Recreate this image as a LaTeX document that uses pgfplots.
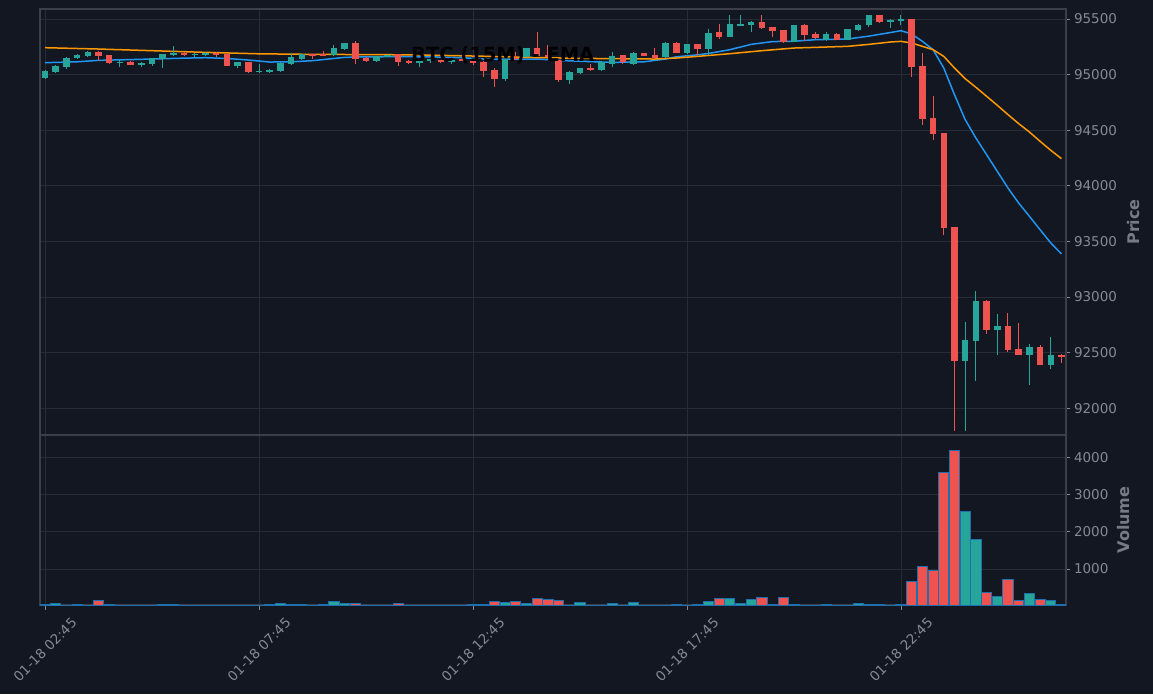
\documentclass[border=0pt]{standalone}
\usepackage{fontspec}
\setmainfont{DejaVu Sans}
\usepackage{pgfplots}
\usepackage{pgfplotstable}
\pgfplotsset{compat=1.18}
\definecolor{bgc}{RGB}{19,23,34}
\definecolor{gridc}{RGB}{40,44,55}
\definecolor{framec}{RGB}{60,63,72}
\definecolor{tickc}{RGB}{134,137,147}
\definecolor{labc}{RGB}{120,123,134}
\definecolor{upc}{RGB}{38,166,154}
\definecolor{dnc}{RGB}{239,83,80}
\definecolor{edgec}{RGB}{31,110,175}
\definecolor{emaf}{RGB}{33,150,243}
\definecolor{emas}{RGB}{255,152,0}

\pgfplotstableread{
i o h l c v
0 94972 95040 94965 95032 55
1 95023 95085 95018 95077 81
2 95071 95161 95048 95149 20
3 95152 95185 95145 95176 55
4 95170 95215 95160 95203 20
7 95107 95131 95066 95116 20
9 95089 95110 95066 95107 20
10 95098 95152 95075 95146 20
11 95140 95190 95057 95185 55
12 95176 95257 95165 95197 55
14 95179 95197 95155 95188 20
15 95176 95203 95170 95197 20
18 95077 95116 95057 95113 20
20 95026 95095 95020 95032 20
21 95023 95050 95015 95044 55
22 95032 95110 95026 95107 81
23 95095 95191 95089 95158 55
24 95140 95190 95135 95185 55
27 95176 95263 95170 95242 135
28 95230 95290 95225 95287 81
31 95125 95172 95115 95167 20
32 95167 95180 95160 95176 20
35 95104 95130 95066 95125 20
36 95120 95145 95110 95140 20
38 95110 95133 95095 95130 20
43 94960 95161 94945 95137 108
45 95161 95242 95155 95237 81
49 94951 95030 94920 95026 20
50 95017 95065 95010 95059 108
52 95041 95120 95035 95116 20
53 95095 95200 95070 95170 81
55 95095 95200 95088 95191 108
58 95155 95290 95150 95284 20
60 95191 95280 95185 95275 20
62 95233 95407 95179 95371 135
64 95341 95533 95335 95455 205
65 95446 95533 95440 95455 81
66 95449 95480 95389 95473 189
70 95296 95450 95290 95443 55
73 95314 95380 95300 95371 55
75 95314 95412 95310 95407 20
76 95401 95460 95390 95443 81
77 95443 95540 95430 95533 55
79 95473 95500 95420 95491 20
80 95485 95536 95450 95500 60
86 92427 92775 91798 92613 2557
87 92607 93051 92242 92964 1800
89 92706 92847 92476 92739 260
92 92481 92577 92206 92550 341
94 92391 92638 92355 92478 151
}\upt

\pgfplotstableread{
i o h l c v
5 95203 95210 95119 95170 162
6 95176 95180 95100 95107 55
8 95116 95120 95085 95089 20
13 95197 95200 95170 95176 20
16 95197 95200 95160 95176 20
17 95185 95190 95075 95080 20
19 95113 95116 95017 95023 20
25 95185 95190 95143 95167 20
26 95185 95210 95172 95176 55
29 95284 95299 95093 95143 81
30 95152 95155 95115 95125 20
33 95185 95190 95077 95116 81
34 95125 95130 95100 95104 20
37 95130 95135 95105 95110 20
39 95140 95150 95125 95130 20
40 95125 95130 95085 95107 55
41 95116 95120 94981 95032 55
42 95041 95057 94891 94960 135
44 95155 95205 95135 95140 135
46 95237 95383 95160 95170 205
47 95182 95263 95155 95161 189
48 95131 95135 94930 94951 162
51 95059 95100 95035 95041 20
54 95176 95180 95100 95116 20
56 95194 95200 95165 95170 20
57 95176 95236 95140 95146 20
59 95284 95290 95190 95197 55
61 95275 95280 95179 95233 55
63 95383 95455 95320 95341 205
67 95473 95533 95415 95422 232
68 95425 95430 95340 95395 55
69 95398 95400 95285 95290 232
71 95443 95455 95300 95359 20
72 95362 95385 95320 95326 20
74 95371 95378 95310 95314 20
78 95533 95536 95465 95473 55
81 95500 95505 94976 95071 665
82 95077 95194 94544 94603 1070
83 94610 94805 94415 94468 973
84 94472 94475 93560 93623 3584
85 93629 93635 91798 92427 4178
88 92964 92970 92670 92706 368
90 92739 92856 92510 92523 730
91 92532 92763 92475 92481 151
93 92550 92570 92385 92391 178
95 92481 92485 92409 92463 54
}\dnt

\pgfplotstableread{
i e
0 95107
3 95115
5 95128
8 95135
10 95140
13 95148
15 95152
17 95145
19 95131
21 95113
23 95115
25 95125
27 95145
28 95155
30 95160
33 95161
36 95160
39 95152
41 95140
43 95138
46 95140
48 95128
50 95120
53 95110
56 95115
57 95128
58 95140
59 95160
61 95178
62 95190
64 95224
66 95272
68 95297
70 95300
72 95314
75 95320
77 95346
79 95378
80 95395
81 95365
82 95299
83 95224
84 95059
85 94819
86 94595
87 94430
88 94280
89 94130
90 93980
91 93845
92 93726
93 93605
94 93486
95 93387
}\emafast

\pgfplotstableread{
i e
0 95242
5 95230
10 95215
15 95200
20 95187
25 95182
30 95180
35 95177
41 95165
45 95155
50 95146
55 95142
57 95140
59 95149
61 95164
64 95188
67 95215
70 95239
75 95254
77 95272
79 95293
80 95299
81 95284
82 95254
83 95224
84 95164
85 95059
86 94963
87 94886
88 94805
89 94724
90 94640
91 94559
92 94484
93 94400
94 94319
95 94244
}\emaslow

\pgfplotsset{
  chartbase/.style={
    scale only axis,
    xmin=-0.47, xmax=95.42,
    axis background/.style={fill=bgc},
    axis line style={draw=framec, line width=1.3pt},
    xtick={0,20,40,60,80},
    tick align=outside,
    major tick length=4.5pt,
    every tick/.style={draw=tickc, line width=0.8pt},
    ytick pos=right, yticklabel pos=right,
    grid=major, grid style={draw=gridc, line width=0.8pt},
    ticklabel style={font=\fontsize{13.5}{16}\selectfont, text=tickc},
    scaled y ticks=false,
    /pgf/number format/.cd, fixed, precision=0, 1000 sep={}, assume math mode=true,
  },
  candle/.style={only marks, mark=*, mark size=0pt, mark options={draw=none, fill=none}, forget plot,
    error bars/.cd, y dir=both, y explicit, error mark=none,
    error bar style={draw=#1, line width=1pt}},
  cbody/.style={only marks, mark=*, mark size=0pt, mark options={draw=none, fill=none}, forget plot,
    error bars/.cd, y dir=both, y explicit, error mark=none,
    error bar style={draw=#1, line width=6.5pt, line cap=butt}},
}

\begin{document}
\begin{tikzpicture}
\fill[bgc] (0,0) rectangle (1153pt,694pt);
\path[use as bounding box] (0,0) rectangle (1153pt,694pt);

\begin{axis}[chartbase,
  at={(40pt,259pt)}, anchor=south west,
  width=1026pt, height=426pt,
  ymin=91759, ymax=95590,
  ytick={92000,92500,93000,93500,94000,94500,95000,95500},
  xticklabels={}, xtick style={draw=none},
  ylabel={Price},
  every axis y label/.style={at={(axis description cs:1.066,0.5)}, rotate=90, anchor=center,
    font=\bfseries\fontsize{16}{19}\selectfont, text=labc},
]
% EMA lines
\addplot[emaf, line width=1.5pt, no marks] table[x=i, y=e] {\emafast};
\addplot[emas, line width=1.5pt, no marks] table[x=i, y=e] {\emaslow};
% wicks
\addplot[candle=upc]
  table[x=i, y expr={(\thisrow{h}+\thisrow{l})/2}, y error expr={(\thisrow{h}-\thisrow{l})/2}] {\upt};
\addplot[candle=dnc]
  table[x=i, y expr={(\thisrow{h}+\thisrow{l})/2}, y error expr={(\thisrow{h}-\thisrow{l})/2}] {\dnt};
% bodies
\addplot[cbody=upc]
  table[x=i, y expr={(\thisrow{o}+\thisrow{c})/2}, y error expr={abs(\thisrow{c}-\thisrow{o})/2}] {\upt};
\addplot[cbody=dnc]
  table[x=i, y expr={(\thisrow{o}+\thisrow{c})/2}, y error expr={abs(\thisrow{c}-\thisrow{o})/2}] {\dnt};
\node[font=\bfseries\fontsize{19.5}{22}\selectfont, text=black] at (axis description cs:0.451,0.892) {BTC (15M) - EMA};
\end{axis}

\begin{axis}[chartbase,
  at={(40pt,89pt)}, anchor=south west,
  width=1026pt, height=170pt,
  ymin=35, ymax=4600,
  ytick={1000,2000,3000,4000},
  xtick pos=bottom,
  xticklabels={01-18 02:45, 01-18 07:45, 01-18 12:45, 01-18 17:45, 01-18 22:45},
  xticklabel style={anchor=center, yshift=-40pt, rotate=45},
  ylabel={Volume},
  every axis y label/.style={at={(axis description cs:1.056,0.5)}, rotate=90, anchor=center,
    font=\bfseries\fontsize{16}{19}\selectfont, text=labc},
]
\addplot[ybar, bar shift=0pt, bar width=0.95, fill=upc, draw=edgec, line width=0.9pt] table[x=i, y=v] {\upt};
\addplot[ybar, bar shift=0pt, bar width=0.95, fill=dnc, draw=edgec, line width=0.9pt] table[x=i, y=v] {\dnt};
\end{axis}
\end{tikzpicture}
\end{document}
